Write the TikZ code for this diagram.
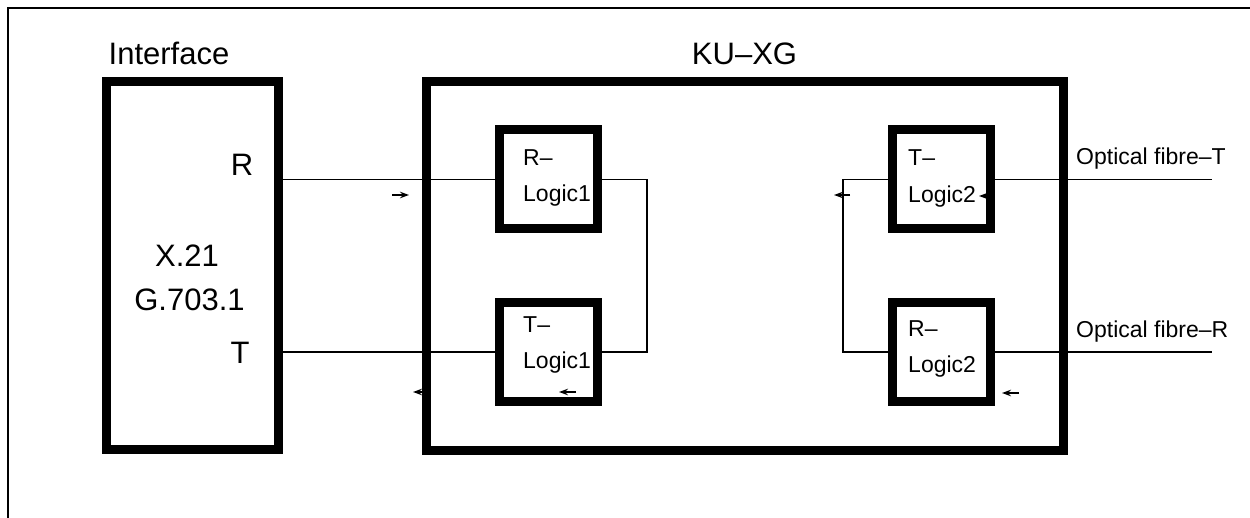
\documentclass[tikz,border=0pt]{standalone}
\usepackage{fontspec}
\setmainfont{Liberation Sans}
\usetikzlibrary{arrows.meta}
\tikzset{
  bigbox/.style={draw, line width=9pt, rectangle, inner sep=0pt},
  logicbox/.style={draw, line width=9pt, rectangle, inner sep=0pt, minimum width=98pt, minimum height=99pt},
  bigtxt/.style={inner sep=0pt, font=\fontsize{31}{36}\selectfont},
  smalltxt/.style={inner sep=0pt, anchor=base west, font=\fontsize{23}{27}\selectfont},
  wire/.style={line width=1.4pt},
  tick/.style={line width=2pt, -{Stealth[length=9pt,width=6.5pt]}}
}
\begin{document}
\begin{tikzpicture}[x=1pt,y=-1pt]
\useasboundingbox (0,0) rectangle (1250,518);
% outer frame (top and left edges)
\draw[line width=2pt] (8,518) -- (8,8) -- (1250,8);

% boxes
\node[bigbox, minimum width=172pt, minimum height=368pt] (iface) at (192.5,265.5) {};
\node[bigbox, minimum width=637.5pt, minimum height=368pt] (kuxg) at (744.75,266) {};
\node[logicbox] (rl1) at (548.5,179.5) {};
\node[logicbox] (tl1) at (548.5,352) {};
\node[logicbox] (tl2) at (941.5,179.5) {};
\node[logicbox] (rl2) at (941.5,352) {};

% titles and labels
\node[bigtxt, anchor=base] (tiface) at (169,65) {Interface};
\node[bigtxt, anchor=base] (tkuxg) at (744.5,65) {KU–XG};
\node[bigtxt, anchor=base] (tR) at (242,176) {R};
\node[bigtxt, anchor=base] (tT) at (240,363) {T};
\node[bigtxt, anchor=base] (tx21) at (187,267) {X.21};
\node[bigtxt, anchor=base] (tg703) at (189.5,311) {G.703.1};

\node[smalltxt] (rl1a) at (523,166) {R–};
\node[smalltxt] (rl1b) at (523,202) {Logic1};
\node[smalltxt] (tl1a) at (523,333) {T–};
\node[smalltxt] (tl1b) at (523,369) {Logic1};
\node[smalltxt] (tl2a) at (908,166) {T–};
\node[smalltxt] (tl2b) at (908,203) {Logic2};
\node[smalltxt] (rl2a) at (908,337) {R–};
\node[smalltxt] (rl2b) at (908,373) {Logic2};
\node[smalltxt] (ofT) at (1076,165) {Optical fibre–T};
\node[smalltxt] (ofR) at (1076,338) {Optical fibre–R};

% connectors
\draw[wire] (iface.east |- rl1.west) -- (rl1.west);
\draw[wire] (iface.east |- tl1.west) -- (tl1.west);
\draw[wire] (rl1.east) -- ++(45,0) |- (tl1.east);
\draw[wire] (tl2.west) -- ++(-45,0) |- (rl2.west);
\coordinate (fT) at (1212,179.5);
\coordinate (fR) at (1212,352);
\draw[wire] (tl2.east) -- (fT);
\draw[wire] (rl2.east) -- (fR);

% small direction marks
\coordinate (a1s) at (392,195); \coordinate (a1e) at (409,195);
\coordinate (a2s) at (428,392); \coordinate (a2e) at (413,392);
\coordinate (a3s) at (576,392); \coordinate (a3e) at (559,392);
\coordinate (a4s) at (850,195); \coordinate (a4e) at (834,195);
\coordinate (a5s) at (992,196); \coordinate (a5e) at (979,196);
\coordinate (a6s) at (1019,393); \coordinate (a6e) at (1002,393);
\draw[tick] (a1s) -- (a1e);
\draw[tick] (a2s) -- (a2e);
\draw[tick] (a3s) -- (a3e);
\draw[tick] (a4s) -- (a4e);
\draw[tick] (a5s) -- (a5e);
\draw[tick] (a6s) -- (a6e);
\end{tikzpicture}
\end{document}
